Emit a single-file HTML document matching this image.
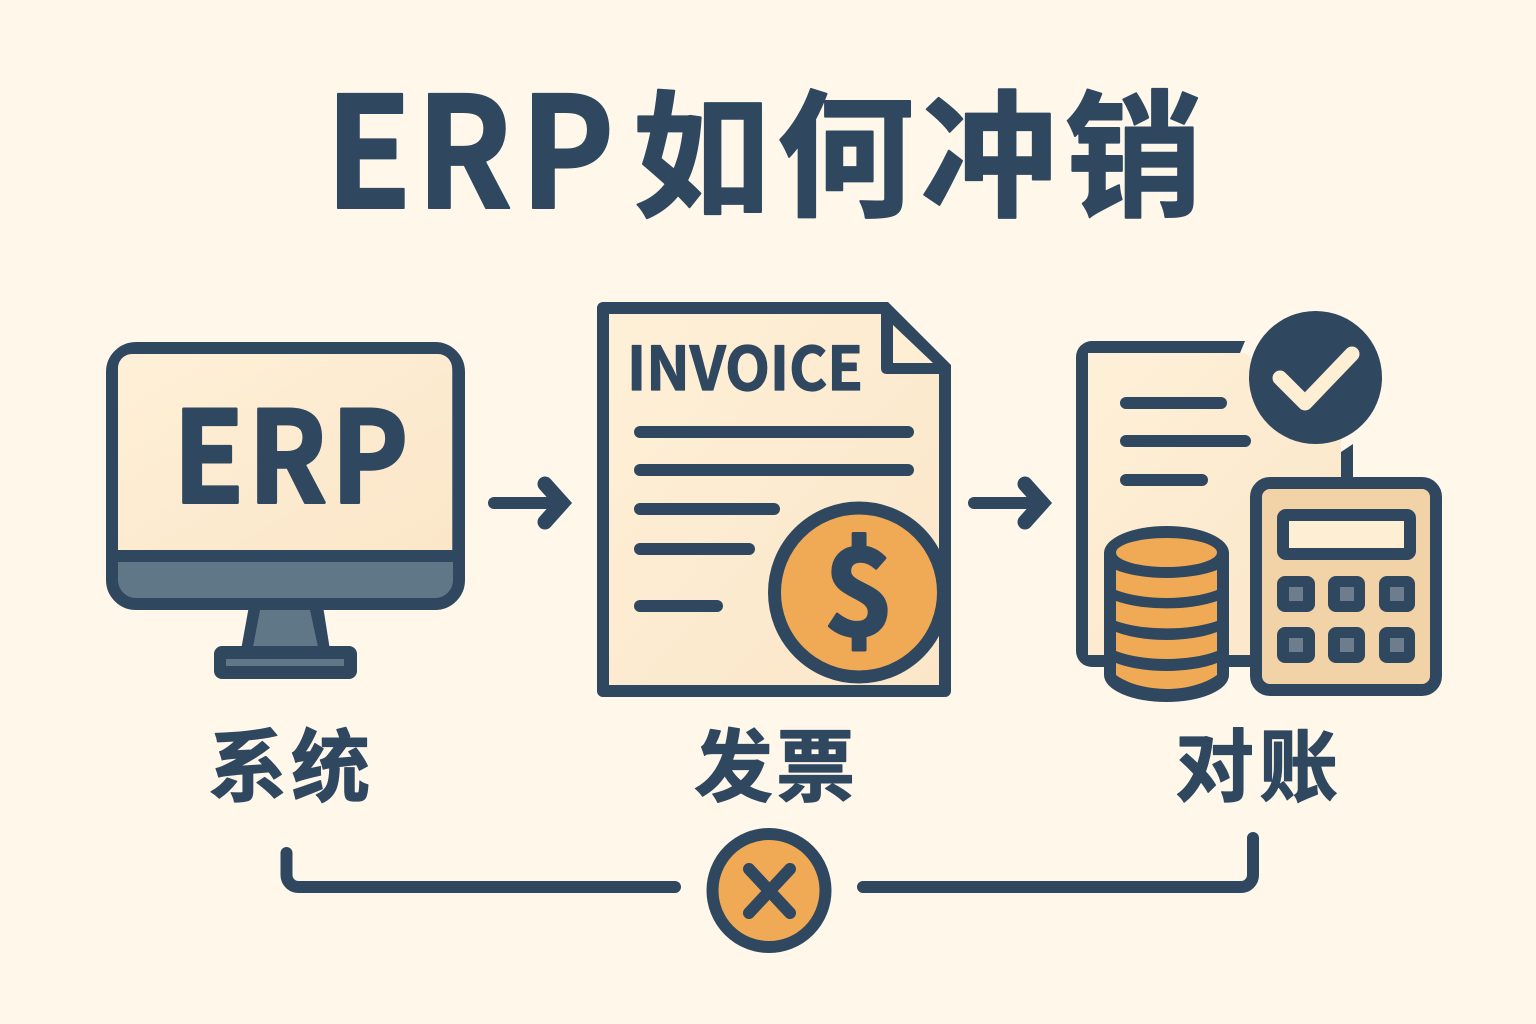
<!DOCTYPE html>
<html lang="zh"><head><meta charset="utf-8"><title>ERP如何冲销</title>
<style>html,body{margin:0;padding:0;background:#fff7ea}svg{display:block}
text{font-family:"Noto Sans CJK SC","Liberation Sans",sans-serif;fill:#2f4860;font-weight:700}
.s3{stroke:#2f4860;stroke-width:3px;stroke-linejoin:round}
.s2{stroke:#2f4860;stroke-width:2px;stroke-linejoin:round}
.s1{stroke:#2f4860;stroke-width:1.2px;stroke-linejoin:round}</style></head>
<body>
<svg width="1536" height="1024" viewBox="0 0 1536 1024" xmlns="http://www.w3.org/2000/svg">
<defs><linearGradient id="g" x1="0" y1="0" x2="1" y2="1"><stop offset="0" stop-color="#fef0d8"/><stop offset="1" stop-color="#fbe6c8"/></linearGradient></defs>
<rect width="1536" height="1024" fill="#fff7ea"/>

<!-- title -->
<g font-size="154">
<text class="s2" transform="translate(325 208) scale(.92 1)">E</text>
<text class="s2" transform="translate(416 208) scale(.92 1)">R</text>
<text class="s2" transform="translate(520 208) scale(.92 1)">P</text>
</g>
<text class="s2" y="205.500" font-size="137" x="633 777 920.500 1065">如何冲销</text>

<!-- monitor -->
<rect x="112" y="348" width="347" height="256" rx="24" fill="#5f7787" stroke="#2f4860" stroke-width="12"/>
<path d="M118 550V368a14 14 0 0 1 14-14H438a14 14 0 0 1 14 14V550Z" fill="url(#g)"/>
<rect x="112" y="550" width="347" height="12" fill="#2f4860"/>
<path d="M249 606H323L330 650H241Z" fill="#2f4860"/>
<path d="M260 610H310L318 647H253Z" fill="#5f7787"/>
<rect x="214" y="646" width="143" height="33" rx="8" fill="#2f4860"/>
<rect x="226" y="659" width="118" height="7" fill="#5f7787"/>
<g font-size="126">
<text class="s3" transform="translate(173 502.500) scale(.92 1)">E</text>
<text class="s3" transform="translate(248 502.500) scale(.92 1)">R</text>
<text class="s3" transform="translate(331 502.500) scale(.92 1)">P</text>
</g>

<!-- arrows -->
<g fill="none" stroke="#2f4860" stroke-width="12" stroke-linecap="round">
<path d="M494 503H558"/><path d="M545 484L562 503L545 522" stroke-width="15" stroke-linejoin="miter"/>
<path d="M974 503H1038"/><path d="M1025 484L1042 503L1025 522" stroke-width="15" stroke-linejoin="miter"/>
</g>

<!-- invoice -->
<path d="M603 308H885L945 368V691H603Z" fill="url(#g)" stroke="#2f4860" stroke-width="12" stroke-linejoin="round"/>
<path d="M881 302H888L951 365V374H887Q881 374 881 368Z" fill="#2f4860"/>
<path d="M893 325L933 363H893Z" fill="#fdeed4"/>
<text class="s1" x="627" y="390" font-size="60" textLength="236" lengthAdjust="spacingAndGlyphs">INVOICE</text>
<g fill="#2f4860">
<rect x="634" y="426" width="280" height="12" rx="6"/>
<rect x="634" y="464" width="280" height="12" rx="6"/>
<rect x="634" y="503" width="146" height="12" rx="6"/>
<rect x="634" y="543" width="121" height="12" rx="6"/>
<rect x="634" y="600" width="89" height="12" rx="6"/>
</g>
<circle cx="859" cy="592.500" r="84.500" fill="#f0aa55" stroke="#2f4860" stroke-width="13"/>
<text class="s3" x="859" y="635" font-size="120" text-anchor="middle">$</text>

<!-- ledger doc -->
<path d="M1088 353H1245L1341 440V655H1088Z" fill="url(#g)"/>
<path d="M1245 341L1240 353H1088V655H1260V667H1092a16 16 0 0 1-16-16V357a16 16 0 0 1 16-16Z" fill="#2f4860"/>
<g fill="#2f4860">
<rect x="1120" y="397" width="107" height="12" rx="6"/>
<rect x="1120" y="435" width="131" height="12" rx="6"/>
<rect x="1120" y="474" width="88" height="12" rx="6"/>
<path d="M1341 452L1353 444V482H1341Z"/>
</g>
<circle cx="1315.500" cy="377.500" r="66.500" fill="#2f4860"/>
<path d="M1280 378L1305 403L1352 354" fill="none" stroke="#fdeed4" stroke-width="15" stroke-linecap="round" stroke-linejoin="round"/>

<!-- calculator -->
<rect x="1256" y="483" width="180" height="207" rx="14" fill="#f2d3a8" stroke="#2f4860" stroke-width="12"/>
<rect x="1283" y="515" width="127" height="39" rx="3" fill="#fdeed4" stroke="#2f4860" stroke-width="12"/>
<g fill="#2f4860">
<rect x="1277" y="576" width="38" height="36" rx="8"/><rect x="1328" y="576" width="37" height="36" rx="8"/><rect x="1379" y="576" width="36" height="36" rx="8"/>
<rect x="1277" y="627" width="38" height="36" rx="8"/><rect x="1328" y="627" width="37" height="36" rx="8"/><rect x="1379" y="627" width="36" height="36" rx="8"/>
</g>
<g fill="#6d7d8d">
<rect x="1289" y="587" width="14" height="14"/><rect x="1340" y="587" width="14" height="14"/><rect x="1390" y="587" width="14" height="14"/>
<rect x="1289" y="638" width="14" height="14"/><rect x="1340" y="638" width="14" height="14"/><rect x="1390" y="638" width="14" height="14"/>
</g>

<!-- database -->
<ellipse cx="1166.500" cy="553" rx="62.500" ry="27" fill="#2f4860"/>
<ellipse cx="1166.500" cy="675" rx="62.500" ry="27" fill="#2f4860"/>
<rect x="1104" y="553" width="125" height="122" fill="#2f4860"/>
<ellipse cx="1166.500" cy="552.500" rx="50.500" ry="14.500" fill="#f0aa55"/>
<g fill="#f0aa55">
<path d="M1116 570A70 26 0 0 0 1217 570V590A70 26 0 0 1 1116 590Z"/>
<path d="M1116 601A70 24 0 0 0 1217 601V621A70 24 0 0 1 1116 621Z"/>
<path d="M1116 632A70 26 0 0 0 1217 632V651A70 26 0 0 1 1116 651Z"/>
<path d="M1116 663A70 26 0 0 0 1217 663V675C1205 684 1185 689 1166.500 689C1148 689 1128 684 1116 675Z"/>
</g>

<!-- labels -->
<g font-size="79">
<text class="s1" y="795" x="208 291">系统</text>
<text class="s1" y="795" x="694 776">发票</text>
<text class="s1" y="795" x="1175 1259">对账</text>
</g>

<!-- bottom connector -->
<g fill="none" stroke="#2f4860" stroke-width="12" stroke-linecap="round" stroke-linejoin="round">
<path d="M286.500 853V875a12 12 0 0 0 12 12H675"/>
<path d="M863 887H1241a12 12 0 0 0 12-12V838"/>
</g>
<circle cx="769" cy="890.500" r="56.500" fill="#f0aa55" stroke="#2f4860" stroke-width="12"/>
<path d="M749 869L790 913M790 869L749 913" fill="none" stroke="#2f4860" stroke-width="12" stroke-linecap="round"/>
</svg>
</body></html>
